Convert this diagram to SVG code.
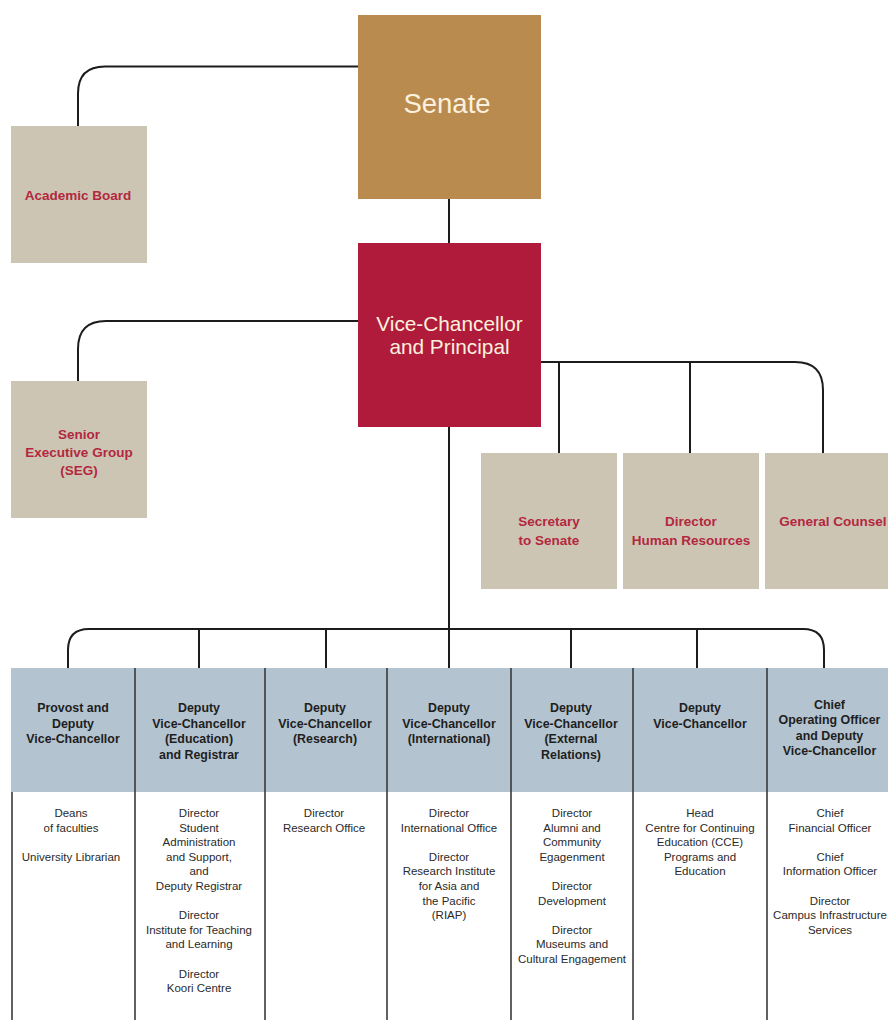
<svg xmlns="http://www.w3.org/2000/svg" width="888" height="1020" viewBox="0 0 888 1020">
  <style>
    .tan { fill: #cdc5b3; }
    .red-label { font-family: "Liberation Sans", Arial, sans-serif; font-weight: bold; font-size: 13.5px; fill: #b3283f; text-anchor: middle; }
    .big-label { font-family: "Liberation Sans", Arial, sans-serif; fill: #fbf1de; text-anchor: middle; }
    .head { font-family: "Liberation Sans", Arial, sans-serif; font-weight: bold; font-size: 12.4px; fill: #1e1e1e; text-anchor: middle; }
    .body { font-family: "Liberation Sans", Arial, sans-serif; font-size: 11.5px; fill: #2a2a2a; text-anchor: middle; }
    .conn { fill: none; stroke: #1c1c1c; stroke-width: 2; }
    .divider { stroke: #3a3a3a; stroke-width: 1.6; }
  </style>

  <rect width="888" height="1020" fill="#ffffff"/>

  <!-- connectors -->
  <g id="connectors">
    <!-- Senate to Academic Board -->
    <path class="conn" d="M358 66.5 H105 Q78 66.5 78 93.5 V126"/>
    <!-- Senate to Vice-Chancellor -->
    <path class="conn" d="M449 199 V243"/>
    <!-- Vice-Chancellor to SEG -->
    <path class="conn" d="M358 321 H106 Q78 321 78 349 V381"/>
    <!-- Vice-Chancellor to office holders on the right -->
    <path class="conn" d="M541 362 H795 Q823 362 823 390 V453"/>
    <path class="conn" d="M559 362 V453"/>
    <path class="conn" d="M690 362 V453"/>
    <!-- Vice-Chancellor down to portfolios -->
    <path class="conn" d="M449 427 V668"/>
    <path class="conn" d="M68 668 V650 Q68 629 89 629 H803 Q824 629 824 650 V668"/>
    <path class="conn" d="M199 629 V668"/>
    <path class="conn" d="M326 629 V668"/>
    <path class="conn" d="M571 629 V668"/>
    <path class="conn" d="M697 629 V668"/>
  </g>

  <!-- Senate -->
  <g id="senate">
    <rect x="358" y="15" width="183" height="184" fill="#b98b4f"/>
    <text class="big-label" x="447" y="113" font-size="27.5">Senate</text>
  </g>

  <!-- Academic Board -->
  <g id="academic-board">
    <rect class="tan" x="11" y="126" width="136" height="137"/>
    <text class="red-label" x="78" y="200">Academic Board</text>
  </g>

  <!-- Vice-Chancellor and Principal -->
  <g id="vice-chancellor">
    <rect x="358" y="243" width="183" height="184" fill="#b01b3b"/>
    <text class="big-label" x="449.5" y="330.5" font-size="20.8">Vice-Chancellor</text>
    <text class="big-label" x="449.5" y="353.5" font-size="20.8">and Principal</text>
  </g>

  <!-- Senior Executive Group -->
  <g id="seg">
    <rect class="tan" x="11" y="381" width="136" height="137"/>
    <text class="red-label" x="79" y="439">Senior</text>
    <text class="red-label" x="79" y="457">Executive Group</text>
    <text class="red-label" x="79" y="475">(SEG)</text>
  </g>

  <!-- Secretary to Senate -->
  <g id="secretary">
    <rect class="tan" x="481" y="453" width="136" height="136"/>
    <text class="red-label" x="549" y="526">Secretary</text>
    <text class="red-label" x="549" y="545">to Senate</text>
  </g>

  <!-- Director Human Resources -->
  <g id="director-hr">
    <rect class="tan" x="623" y="453" width="136" height="136"/>
    <text class="red-label" x="691" y="526">Director</text>
    <text class="red-label" x="691" y="545">Human Resources</text>
  </g>

  <!-- General Counsel -->
  <g id="general-counsel">
    <rect class="tan" x="765" y="453" width="136" height="136"/>
    <text class="red-label" x="833" y="526">General Counsel</text>
  </g>

  <!-- portfolio table: header band and column rules -->
  <g id="portfolio-table">
    <rect x="11" y="668" width="877" height="124" fill="#b3c3cf"/>
    <line class="divider" x1="12" y1="792" x2="12" y2="1020"/>
    <line class="divider" x1="135" y1="668" x2="135" y2="1020"/>
    <line class="divider" x1="265" y1="668" x2="265" y2="1020"/>
    <line class="divider" x1="387" y1="668" x2="387" y2="1020"/>
    <line class="divider" x1="511" y1="668" x2="511" y2="1020"/>
    <line class="divider" x1="633" y1="668" x2="633" y2="1020"/>
    <line class="divider" x1="767" y1="668" x2="767" y2="1020"/>
  </g>

  <!-- Provost and Deputy Vice-Chancellor -->
  <g id="provost">
    <text class="head" x="73" y="712">Provost and</text>
    <text class="head" x="73" y="727.5">Deputy</text>
    <text class="head" x="73" y="743">Vice-Chancellor</text>
    <text class="body" x="71" y="817">Deans</text>
    <text class="body" x="71" y="831.6">of faculties</text>
    <text class="body" x="71" y="860.8">University Librarian</text>
  </g>

  <!-- DVC (Education) and Registrar -->
  <g id="dvc-education">
    <text class="head" x="199" y="712">Deputy</text>
    <text class="head" x="199" y="727.5">Vice-Chancellor</text>
    <text class="head" x="199" y="743">(Education)</text>
    <text class="head" x="199" y="758.5">and Registrar</text>
    <text class="body" x="199" y="817">Director</text>
    <text class="body" x="199" y="831.6">Student</text>
    <text class="body" x="199" y="846.2">Administration</text>
    <text class="body" x="199" y="860.8">and Support,</text>
    <text class="body" x="199" y="875.4">and</text>
    <text class="body" x="199" y="890">Deputy Registrar</text>
    <text class="body" x="199" y="919.2">Director</text>
    <text class="body" x="199" y="933.8">Institute for Teaching</text>
    <text class="body" x="199" y="948.4">and Learning</text>
    <text class="body" x="199" y="977.6">Director</text>
    <text class="body" x="199" y="992.2">Koori Centre</text>
  </g>

  <!-- DVC (Research) -->
  <g id="dvc-research">
    <text class="head" x="325" y="712">Deputy</text>
    <text class="head" x="325" y="727.5">Vice-Chancellor</text>
    <text class="head" x="325" y="743">(Research)</text>
    <text class="body" x="324" y="817">Director</text>
    <text class="body" x="324" y="831.6">Research Office</text>
  </g>

  <!-- DVC (International) -->
  <g id="dvc-international">
    <text class="head" x="449" y="712">Deputy</text>
    <text class="head" x="449" y="727.5">Vice-Chancellor</text>
    <text class="head" x="449" y="743">(International)</text>
    <text class="body" x="449" y="817">Director</text>
    <text class="body" x="449" y="831.6">International Office</text>
    <text class="body" x="449" y="860.8">Director</text>
    <text class="body" x="449" y="875.4">Research Institute</text>
    <text class="body" x="449" y="890">for Asia and</text>
    <text class="body" x="449" y="904.6">the Pacific</text>
    <text class="body" x="449" y="919.2">(RIAP)</text>
  </g>

  <!-- DVC (External Relations) -->
  <g id="dvc-external">
    <text class="head" x="571" y="712">Deputy</text>
    <text class="head" x="571" y="727.5">Vice-Chancellor</text>
    <text class="head" x="571" y="743">(External</text>
    <text class="head" x="571" y="758.5">Relations)</text>
    <text class="body" x="572" y="817">Director</text>
    <text class="body" x="572" y="831.6">Alumni and</text>
    <text class="body" x="572" y="846.2">Community</text>
    <text class="body" x="572" y="860.8">Egagenment</text>
    <text class="body" x="572" y="890">Director</text>
    <text class="body" x="572" y="904.6">Development</text>
    <text class="body" x="572" y="933.8">Director</text>
    <text class="body" x="572" y="948.4">Museums and</text>
    <text class="body" x="572" y="963">Cultural Engagement</text>
  </g>

  <!-- Deputy Vice-Chancellor -->
  <g id="dvc">
    <text class="head" x="700" y="712">Deputy</text>
    <text class="head" x="700" y="727.5">Vice-Chancellor</text>
    <text class="body" x="700" y="817">Head</text>
    <text class="body" x="700" y="831.6">Centre for Continuing</text>
    <text class="body" x="700" y="846.2">Education (CCE)</text>
    <text class="body" x="700" y="860.8">Programs and</text>
    <text class="body" x="700" y="875.4">Education</text>
  </g>

  <!-- Chief Operating Officer and Deputy Vice-Chancellor -->
  <g id="coo">
    <text class="head" x="829.5" y="709">Chief</text>
    <text class="head" x="829.5" y="724">Operating Officer</text>
    <text class="head" x="829.5" y="739.5">and Deputy</text>
    <text class="head" x="829.5" y="755">Vice-Chancellor</text>
    <text class="body" x="830" y="817">Chief</text>
    <text class="body" x="830" y="831.6">Financial Officer</text>
    <text class="body" x="830" y="860.8">Chief</text>
    <text class="body" x="830" y="875.4">Information Officer</text>
    <text class="body" x="830" y="904.6">Director</text>
    <text class="body" x="830" y="919.2">Campus Infrastructure</text>
    <text class="body" x="830" y="933.8">Services</text>
  </g>
</svg>
